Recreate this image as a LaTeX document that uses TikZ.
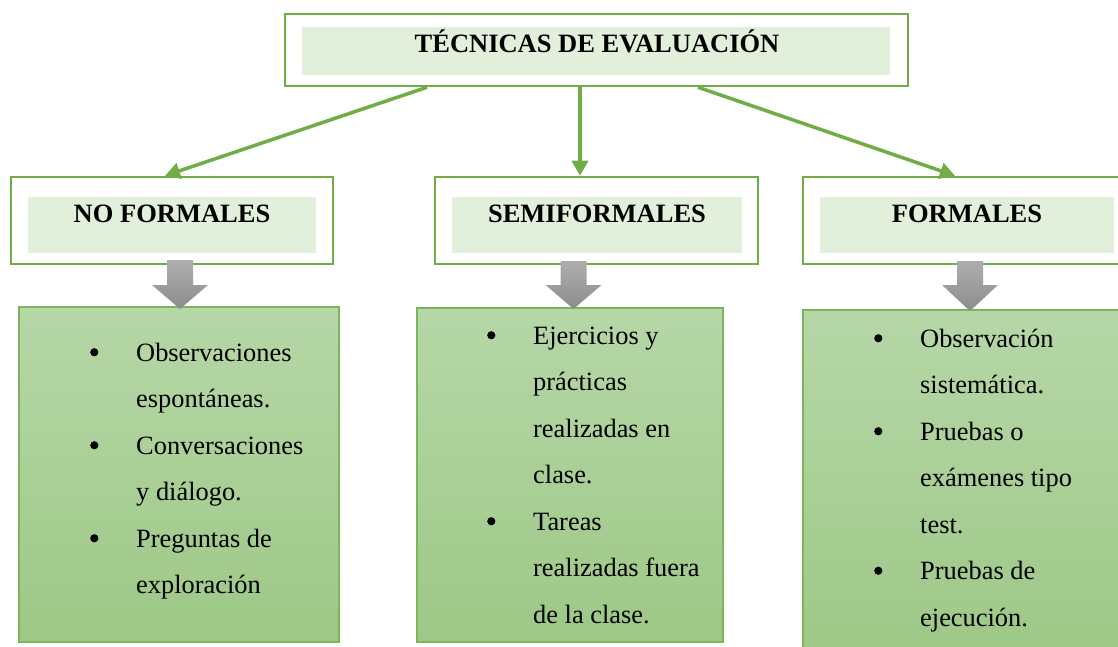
\documentclass[tikz,border=0pt]{standalone}
\usepackage{fontspec}
\setmainfont{Liberation Serif}
\usetikzlibrary{arrows.meta,calc}
\definecolor{gline}{HTML}{70AD47}
\definecolor{gin}{HTML}{E2EFDA}
\definecolor{gtop}{RGB}{182,215,167}
\definecolor{gbot}{RGB}{157,200,134}
\definecolor{gborder}{HTML}{7CB65A}
\definecolor{graytop}{RGB}{174,174,174}
\definecolor{graybot}{RGB}{140,140,140}
\newcommand\myGrayArrow[3]{% center x, top y, apex y
  \path[grayarr] ({#1-13},#2) -- ({#1+13},#2) -- ({#1+13},285) -- ({#1+28},285)
    -- (#1,#3) -- ({#1-28},285) -- ({#1-13},285) -- cycle;}
\newcommand\mybul{\tikz[baseline=0pt,x=1pt,y=1pt]\fill[black] (4.1,9) circle (4.1);}
\begin{document}
\begin{tikzpicture}[x=1pt,y=-1pt,
  outerbox/.style={draw=gline,line width=2.5pt,fill=white,inner sep=0pt},
  innerbox/.style={fill=gin,inner sep=0pt},
  hfont/.style={font=\fontsize{26.5}{30}\selectfont\bfseries,inner sep=0pt,anchor=base},
  listbox/.style={draw=gborder,line width=1.2pt,top color=gtop,bottom color=gbot,inner sep=0pt},
  listtxt/.style={font=\fontsize{26.4}{46.5}\selectfont,inner sep=0pt,anchor=north west},
  conn/.style={draw=gline,line width=3.5pt,-{Triangle[length=15pt,width=16pt]}},
  grayarr/.style={top color=graytop,bottom color=graybot,draw=none}
]
\useasboundingbox (0,0) rectangle (1118,647);
\fill[white] (0,0) rectangle (1118,647);
\clip (0,0) rectangle (1118,647);

% top
\node[outerbox,minimum width=623pt,minimum height=72pt] (top) at (596.5,50) {};
\node[innerbox,minimum width=588pt,minimum height=48pt] (topin) at (596,51) {};
\node[hfont] (toptxt) at (597,53) {TÉCNICAS DE EVALUACIÓN};

% second row
\node[outerbox,minimum width=322pt,minimum height=87pt] (nf) at (172,220.5) {};
\node[innerbox,minimum width=288pt,minimum height=56pt] (nfin) at (172,225) {};
\node[hfont] (nftxt) at (172,222) {NO FORMALES};

\node[outerbox,minimum width=323pt,minimum height=87pt] (sf) at (596.5,220.5) {};
\node[innerbox,minimum width=290pt,minimum height=56pt] (sfin) at (597,225) {};
\node[hfont] (sftxt) at (597,222) {SEMIFORMALES};

\node[outerbox,minimum width=328pt,minimum height=87pt] (f) at (967,220.5) {};
\node[innerbox,minimum width=294pt,minimum height=56pt] (fin) at (967,225) {};
\node[hfont] (ftxt) at (967,222) {FORMALES};

% connectors
\draw[conn] ([xshift=-169.5pt]top.south) -- ([xshift=-7pt]nf.north);
\draw[conn] ([xshift=-16.5pt]top.south) -- ([xshift=-16.5pt]sf.north);
\draw[conn] ([xshift=101.5pt]top.south) -- ([xshift=-12pt]f.north);

% content boxes
\node[listbox,minimum width=320pt,minimum height=335pt] (lb) at (179,474.5) {};
\node[listbox,minimum width=306pt,minimum height=334pt] (mb) at (570,475) {};
\node[listbox,minimum width=318pt,minimum height=350pt] (rb) at (962,485) {};

\node[listtxt] (lt) at (90,328.5) {\begin{tabular}{@{}p{46pt}@{}l@{}}
\mybul & Observaciones\\
 & espontáneas.\\
\mybul & Conversaciones\\
 & y diálogo.\\
\mybul & Preguntas de\\
 & exploración
\end{tabular}};

\node[listtxt] (mt) at (487,311.5) {\begin{tabular}{@{}p{46pt}@{}l@{}}
\mybul & Ejercicios y\\
 & prácticas\\
 & realizadas en\\
 & clase.\\
\mybul & Tareas\\
 & realizadas fuera\\
 & de la clase.
\end{tabular}};

\node[listtxt] (rt) at (874,314.5) {\begin{tabular}{@{}p{46pt}@{}l@{}}
\mybul & Observación\\
 & sistemática.\\
\mybul & Pruebas o\\
 & exámenes tipo\\
 & test.\\
\mybul & Pruebas de\\
 & ejecución.
\end{tabular}};

% gray arrows
\myGrayArrow{180}{260}{309}
\myGrayArrow{573.5}{261}{309}
\myGrayArrow{970}{261}{311}
\end{tikzpicture}
\end{document}
